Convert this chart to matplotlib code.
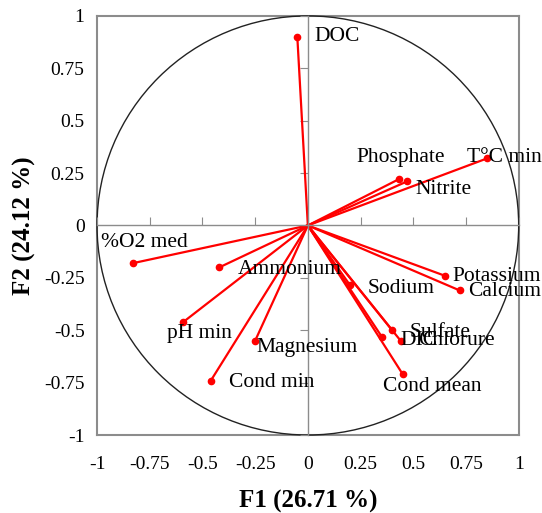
import numpy as np
import matplotlib.pyplot as plt
from matplotlib.patches import Circle

# PCA loadings (correlation circle)
variables = ['DOC', 'T°C min', 'Phosphate', 'Nitrite', '%O2 med', 'Ammonium',
             'pH min', 'Magnesium', 'Cond min', 'Sodium', 'Potassium', 'Calcium',
             'Sulfate', 'Chlorure', 'DIC', 'Cond mean']
f1 = [-0.05, 0.85, 0.43, 0.47, -0.83, -0.42, -0.59, -0.25, -0.46, 0.20, 0.65, 0.72,
      0.40, 0.44, 0.35, 0.45]
f2 = [0.90, 0.32, 0.22, 0.21, -0.18, -0.20, -0.46, -0.55, -0.74, -0.285, -0.24, -0.31,
      -0.50, -0.55, -0.53, -0.71]

# where each label sits (data coords, left edge / vertical centre)
label_pos = {
    'DOC': (0.03, 0.90), 'T°C min': (0.755, 0.325), 'Phosphate': (0.23, 0.325),
    'Nitrite': (0.51, 0.17), '%O2 med': (-0.98, -0.08), 'Ammonium': (-0.33, -0.21),
    'pH min': (-0.67, -0.515), 'Magnesium': (-0.245, -0.58), 'Cond min': (-0.375, -0.75),
    'Sodium': (0.285, -0.30), 'Potassium': (0.685, -0.245), 'Calcium': (0.76, -0.315),
    'Sulfate': (0.485, -0.51), 'Chlorure': (0.525, -0.55), 'DIC': (0.44, -0.55),
    'Cond mean': (0.355, -0.77),
}

ticks = [-1, -0.75, -0.5, -0.25, 0, 0.25, 0.5, 0.75, 1]
tick_labels = ['-1', '-0.75', '-0.5', '-0.25', '0', '0.25', '0.5', '0.75', '1']

plt.rcParams['font.family'] = ['Liberation Serif', 'DejaVu Serif']

fig = plt.figure(figsize=(5.42, 5.13), dpi=100)
ax = fig.add_axes([0.179, 0.152, 0.778, 0.817])
ax.set_xlim(-1, 1)
ax.set_ylim(-1, 1)
for s in ax.spines.values():
    s.set_color('#8c8c8c')
    s.set_linewidth(1.5)
ax.set_xticks(ticks)
ax.set_xticklabels(tick_labels)
ax.set_yticks(ticks)
ax.set_yticklabels(tick_labels)
ax.tick_params(axis='both', length=0, labelsize=14)
ax.tick_params(axis='x', pad=15)
ax.tick_params(axis='y', pad=9)
ax.set_xlabel('F1 (26.71 %)', fontsize=18, fontweight='bold', labelpad=12)
ax.set_ylabel('F2 (24.12 %)', fontsize=18, fontweight='bold', labelpad=6)

# overlay axes for the centre lines with their small ticks
ax2 = fig.add_axes(ax.get_position(), sharex=ax, sharey=ax, facecolor='none')
for side in ['top', 'right']:
    ax2.spines[side].set_visible(False)
ax2.spines['left'].set_position('zero')
ax2.spines['bottom'].set_position('zero')
for side in ['left', 'bottom']:
    ax2.spines[side].set_color('#8c8c8c')
    ax2.spines[side].set_linewidth(1.0)
ax2.tick_params(axis='x', direction='in', length=6, color='#8c8c8c', labelbottom=False)
ax2.tick_params(axis='y', direction='out', length=6, color='#8c8c8c', labelleft=False)

ax2.add_patch(Circle((0, 0), 1, fill=False, color='#222222', lw=1.0, clip_on=False))

for name, x, y in zip(variables, f1, f2):
    ax2.plot([0, x], [0, y], color='red', lw=1.6)
    ax2.plot(x, y, 'o', color='red', ms=4.5)
    lx, ly = label_pos[name]
    ax2.text(lx, ly, name, fontsize=15.5, ha='left', va='center', clip_on=False)

fig.savefig('out.png', dpi=100)
